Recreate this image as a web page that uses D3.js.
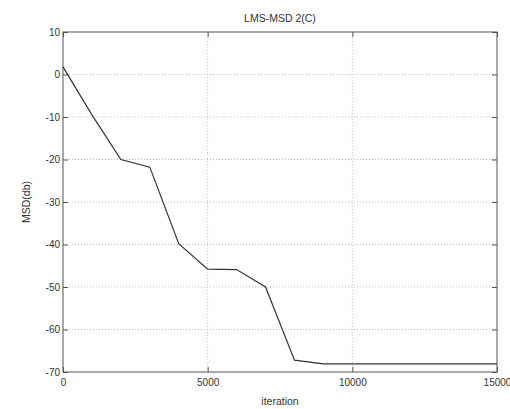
<!DOCTYPE html>
<html>
<head>
<meta charset="utf-8">
<script src="https://cdn.jsdelivr.net/npm/d3@7"></script>
<style>
  html, body { margin: 0; padding: 0; background: #fff; }
  svg { display: block; }
  text { font-family: "Liberation Sans", Arial, sans-serif; fill: #333; }
</style>
</head>
<body>
<svg id="chart" width="510" height="409"></svg>
<script>
// Mean square deviation of the LMS filter over the iterations
const iterations = [0, 1000, 2000, 3000, 4000, 5000, 6000, 7000, 8000, 9000, 10000, 11000, 12000, 13000, 14000, 15000];
const msdDb = [1.8, -9.5, -20, -21.8, -39.8, -45.8, -45.9, -50, -67.2, -68.1, -68.1, -68.1, -68.1, -68.1, -68.1, -68.1];

const xTicks = [0, 5000, 10000, 15000];
const yTicks = [10, 0, -10, -20, -30, -40, -50, -60, -70];

const titleText = "LMS-MSD 2(C)";
const xLabel = "iteration";
const yLabel = "MSD(db)";

const svg = d3.select("#chart");
const margin = { left: 63, top: 32, right: 13, bottom: 37 };
const W = 510, H = 409;
const iw = W - margin.left - margin.right;
const ih = H - margin.top - margin.bottom;

const x = d3.scaleLinear().domain([0, 15000]).range([0, iw]);
const y = d3.scaleLinear().domain([-70, 10]).range([ih, 0]);

const g = svg.append("g").attr("transform", `translate(${margin.left},${margin.top})`);

// dotted grid
g.append("g").selectAll("line").data(xTicks.slice(1, -1)).join("line")
  .attr("x1", d => x(d)).attr("x2", d => x(d)).attr("y1", 0).attr("y2", ih)
  .attr("stroke", "#bbb").attr("stroke-width", 1).attr("stroke-dasharray", "1,2");
g.append("g").selectAll("line").data(yTicks.slice(1, -1)).join("line")
  .attr("x1", 0).attr("x2", iw).attr("y1", d => y(d)).attr("y2", d => y(d))
  .attr("stroke", "#bbb").attr("stroke-width", 1).attr("stroke-dasharray", "1,2");

// plain hyphen-minus labels
const fmt = d => String(d);

// axes with inward ticks
const axisStyle = sel => {
  sel.select(".domain").remove();
  sel.selectAll(".tick line").attr("stroke", "#555");
  sel.selectAll(".tick text").attr("font-size", 10).attr("fill", "#444")
    .style("font-family", "'Liberation Sans', Arial, sans-serif");
};
g.append("g").attr("transform", `translate(0,${ih})`)
  .call(d3.axisBottom(x).tickValues(xTicks).tickSize(-5).tickPadding(7).tickFormat(fmt))
  .call(axisStyle);
g.append("g")
  .call(d3.axisLeft(y).tickValues(yTicks).tickSize(-5).tickPadding(3).tickFormat(fmt))
  .call(axisStyle);
g.append("g")
  .call(d3.axisTop(x).tickValues(xTicks).tickSize(-5).tickFormat(""))
  .call(axisStyle);
g.append("g").attr("transform", `translate(${iw},0)`)
  .call(d3.axisRight(y).tickValues(yTicks).tickSize(-5).tickFormat(""))
  .call(axisStyle);

// frame
g.append("rect").attr("x", 0).attr("y", 0).attr("width", iw).attr("height", ih)
  .attr("fill", "none").attr("stroke", "#555").attr("stroke-width", 1);

// curve
const line = d3.line().x((d, i) => x(iterations[i])).y(d => y(d));
g.append("path").datum(msdDb).attr("d", line)
  .attr("fill", "none").attr("stroke", "#333").attr("stroke-width", 1.2);

// labels
svg.append("text").attr("x", margin.left + iw / 2).attr("y", 22)
  .attr("text-anchor", "middle").attr("font-size", 10.5).text(titleText);
svg.append("text").attr("x", margin.left + iw / 2).attr("y", 405)
  .attr("text-anchor", "middle").attr("font-size", 10.5).text(xLabel);
svg.append("text").attr("transform", `translate(30,${margin.top + ih / 2}) rotate(-90)`)
  .attr("text-anchor", "middle").attr("font-size", 10.5).text(yLabel);
</script>
</body>
</html>
